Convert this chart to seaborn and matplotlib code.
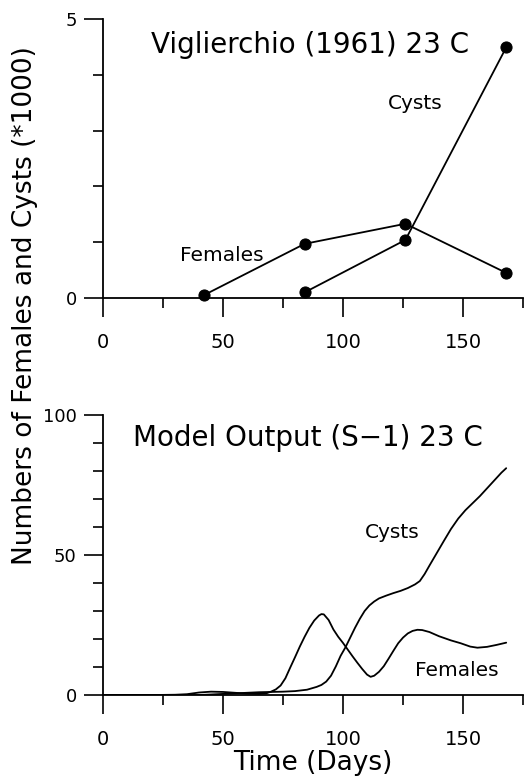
"""
Vigliercchio (1961) observations vs. model output (S-1) at 23 C.
"""
import seaborn as sns
import pandas as pd
import matplotlib.pyplot as plt
from matplotlib.ticker import MultipleLocator

# Observed data (top panel), numbers * 1000.
obs_days_females = [42, 84, 126, 168]
obs_females = [0.05, 0.97, 1.33, 0.45]
obs_days_cysts = [84, 126, 168]
obs_cysts = [0.1, 1.04, 4.49]

# Model output (bottom panel).
model_days_females = [0, 10, 20, 30, 35, 40, 45, 50, 55, 60, 65, 68, 70, 72, 74,
                      76, 78, 80, 82, 84, 86, 88, 90, 91, 92, 94, 96, 98, 100,
                      102, 104, 106, 108, 110, 111.5, 113, 115, 117, 119, 121,
                      123, 125, 127, 129, 131, 133, 136, 140, 145, 149, 153,
                      156, 160, 164, 168]
model_females = [0, 0, 0, 0.1, 0.3, 0.9, 1.2, 1.1, 0.8, 0.5, 0.4, 0.6, 1.2, 2.0, 3.4,
                 6.0, 9.8, 13.5, 17.3, 20.8, 24.0, 26.6, 28.4, 28.9, 28.8, 26.8,
                 23.4, 20.8, 18.6, 16.2, 13.8, 11.5, 9.3, 7.3, 6.5, 6.9, 8.3,
                 10.3, 13.0, 15.8, 18.5, 20.5, 22.0, 22.9, 23.3, 23.2, 22.5,
                 21.0, 19.5, 18.5, 17.3, 16.9, 17.2, 17.9, 18.7]
model_days_cysts = [0, 10, 20, 30, 40, 45, 50, 55, 60, 65, 70, 75, 80, 85, 87, 89,
                    91, 93, 95, 97, 99, 101, 103, 105, 107, 109, 111, 113, 115,
                    118, 121, 124, 127, 130, 132, 134, 136, 139, 142, 145, 148,
                    151, 154, 157, 160, 163, 166, 168]
model_cysts = [0, 0, 0, 0, 0, 0.2, 0.4, 0.6, 0.8, 1.0, 1.1, 1.2, 1.4, 1.9, 2.4, 2.9,
               3.6, 4.8, 6.9, 10.2, 14.0, 17.0, 20.5, 24.0, 27.2, 30.0, 32.0, 33.4,
               34.5, 35.5, 36.4, 37.2, 38.2, 39.5, 40.7, 43.2, 46.2, 50.6, 55.0,
               59.3, 63.0, 66.0, 68.5, 71.0, 73.8, 76.6, 79.4, 81.0]


def style_axis(ax, ymax, ymajor, yminor):
    ax.set_xlim(0, 175)
    ax.set_ylim(0, ymax)
    ax.xaxis.set_major_locator(MultipleLocator(50))
    ax.xaxis.set_minor_locator(MultipleLocator(25))
    ax.yaxis.set_major_locator(MultipleLocator(ymajor))
    ax.yaxis.set_minor_locator(MultipleLocator(yminor))
    ax.spines["top"].set_visible(False)
    ax.spines["right"].set_visible(False)
    ax.spines["left"].set_linewidth(1.3)
    ax.spines["bottom"].set_linewidth(1.3)
    ax.spines["left"].set_color("black")
    ax.spines["bottom"].set_color("black")
    ax.tick_params(axis="both", which="both", bottom=True, left=True,
                   direction="out", color="black", labelcolor="black")
    ax.tick_params(axis="both", which="major", length=14, width=1.2)
    ax.tick_params(axis="both", which="minor", length=7, width=1.2)
    ax.tick_params(axis="x", which="major", labelsize=14, pad=11)
    ax.tick_params(axis="y", which="major", labelsize=13, pad=5)
    ax.set_xlabel("")
    ax.set_ylabel("")


sns.set_style("ticks")
plt.rcParams["font.family"] = ["DejaVu Sans"]
plt.rcParams["text.color"] = "black"

fig = plt.figure(figsize=(5.24, 7.77), dpi=100)
ax1 = fig.add_axes([0.1966, 0.6165, 0.8015, 0.3591])
ax2 = fig.add_axes([0.1966, 0.1055, 0.8015, 0.3604])

# Top panel: observed values.
df_f = pd.DataFrame({"day": obs_days_females, "value": obs_females})
df_c = pd.DataFrame({"day": obs_days_cysts, "value": obs_cysts})
for d in (df_f, df_c):
    sns.lineplot(data=d, x="day", y="value", ax=ax1, color="black", lw=1.3,
                 marker="o", markersize=8, markeredgecolor="black", clip_on=False)
style_axis(ax1, 5, 5, 1)
ax1.text(20, 4.53, "Viglierchio (1961) 23 C", fontsize=20, va="center", ha="left")
ax1.text(118.7, 3.49, "Cysts", fontsize=14.5, va="center", ha="left")
ax1.text(32, 0.77, "Females", fontsize=14.5, va="center", ha="left")

# Bottom panel: model output.
df_mf = pd.DataFrame({"day": model_days_females, "value": model_females})
df_mc = pd.DataFrame({"day": model_days_cysts, "value": model_cysts})
sns.lineplot(data=df_mf, x="day", y="value", ax=ax2, color="black", lw=1.3)
sns.lineplot(data=df_mc, x="day", y="value", ax=ax2, color="black", lw=1.3)
style_axis(ax2, 100, 50, 10)
ax2.text(12.5, 91.8, "Model Output (S\u22121) 23 C", fontsize=20, va="center", ha="left")
ax2.text(109.2, 57.9, "Cysts", fontsize=14.5, va="center", ha="left")
ax2.text(130, 8.9, "Females", fontsize=14.5, va="center", ha="left")
ax2.set_xlabel("Time (Days)", fontsize=19, labelpad=1, color="black")

fig.text(25 / 524, 1 - 306 / 777, "Numbers of Females and Cysts (*1000)",
         rotation=90, fontsize=19, ha="center", va="center")

plt.savefig("out.png", dpi=100)
